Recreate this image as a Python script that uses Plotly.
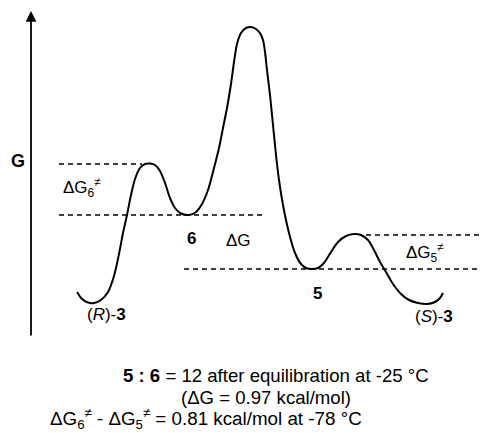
import plotly.graph_objects as go

# Free-energy profile (x, G) in drawing units (G grows upward -> smaller y)
curve_x = [77, 82, 88, 94, 101, 108, 114, 119, 123, 127, 131, 135, 140, 145, 150, 155, 160, 165, 170, 175,
           181, 189, 196, 202, 208, 214, 219, 223, 227, 231, 234, 237, 241, 246, 251, 256, 260, 263, 265,
           267, 270, 273, 276, 279, 283, 289, 295, 301, 306, 312, 318, 324, 331, 338, 346, 354, 361, 368,
           374, 380, 386, 393, 401, 409, 418, 427, 435, 440, 443]
curve_y = [292, 299, 302.5, 303, 300, 292, 276, 254, 233, 215, 195, 179, 168, 164, 163.5, 165, 171, 183, 198, 208,
           213.5, 215, 212, 204, 190, 168, 148, 128, 108, 84, 62, 44, 33, 28, 27, 29, 33, 40, 52,
           70, 95, 125, 155, 180, 205, 233, 253, 264, 268, 269, 268, 263, 252, 242, 236, 234, 235, 240,
           250, 262, 272, 284, 294, 300, 303, 304, 302, 298, 293]

# Dashed reference levels: (x_start, x_end, level)
level_ts6 = (59, 142, 164)
level_6 = (59, 262, 215)
level_5 = (184, 488, 269)
level_ts5 = (366, 488, 235)
levels = [level_ts6, level_6, level_5, level_ts5]

font_family = "Liberation Sans, Arial, Helvetica, sans-serif"

fig = go.Figure()
for x0, x1, lv in levels:
    fig.add_trace(go.Scatter(x=[x0, x1], y=[lv, lv], mode="lines",
                             line=dict(color="black", width=1.4, dash="5px,4px"),
                             hoverinfo="skip", showlegend=False))

fig.add_trace(go.Scatter(x=curve_x, y=curve_y, mode="lines",
                         line=dict(color="black", width=2, shape="spline", smoothing=0.8),
                         hoverinfo="skip", showlegend=False))

annots = []
# G axis arrow
annots.append(dict(x=31, y=11, ax=31, ay=337, xref="x", yref="y", axref="x", ayref="y",
                   showarrow=True, arrowhead=2, arrowsize=1.2, arrowwidth=1.8, arrowcolor="black", text=""))

def txt(x, y, s, size=17, xanchor="center"):
    annots.append(dict(x=x, y=y, xref="x", yref="y", text=s, showarrow=False,
                       xanchor=xanchor, yanchor="middle",
                       font=dict(family=font_family, size=size, color="black")))

txt(18, 161, "<b>G</b>", 18)
txt(61, 187, "ΔG<sub>6</sub><sup>≠</sup>", 17, "left")
txt(191, 238, "<b>6</b>", 17)
txt(238, 240, "ΔG", 17)
txt(317, 293, "<b>5</b>", 17)
txt(404, 252, "ΔG<sub>5</sub><sup>≠</sup>", 17, "left")
txt(85, 314, "(<i>R</i>)-<b>3</b>", 17, "left")
txt(413, 316, "(<i>S</i>)-<b>3</b>", 17, "left")
txt(121, 375, "<b>5 : 6</b> = 12 after equilibration at -25 °C", 18.6, "left")
txt(179, 397, "(ΔG = 0.97 kcal/mol)", 18.6, "left")
txt(48, 418, "ΔG<sub>6</sub><sup>≠</sup> - ΔG<sub>5</sub><sup>≠</sup> = 0.81 kcal/mol at -78 °C", 18.8, "left")

# The page body adds an 8px margin; the figure area is sized/ranged so data units equal window pixels.
fig.update_layout(
    width=480, height=425, margin=dict(l=0, r=0, t=0, b=0),
    paper_bgcolor="white", plot_bgcolor="white",
    xaxis=dict(range=[8, 488], visible=False, fixedrange=True),
    yaxis=dict(range=[433, 8], visible=False, fixedrange=True),
    annotations=annots, showlegend=False,
)
fig.write_html("out.html")
